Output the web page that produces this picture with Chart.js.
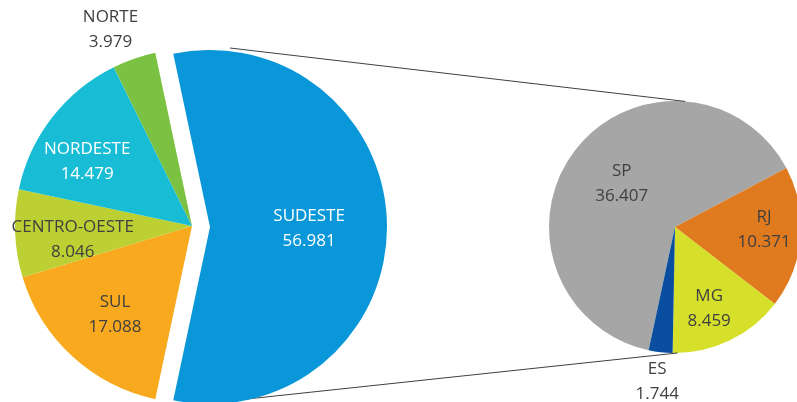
<!DOCTYPE html>
<html>
<head>
<meta charset="utf-8">
<script src="https://cdn.jsdelivr.net/npm/chart.js@4/dist/chart.umd.min.js"></script>
<style>
  body { margin: 0; background: #fff; }
  #wrap { position: relative; width: 797px; height: 402px; overflow: hidden; }
  #wrap canvas { position: absolute; left: 0; top: 0; }
</style>
</head>
<body>
<div id="wrap">
  <canvas id="detailPie" width="797" height="402"></canvas>
  <canvas id="mainPie" width="797" height="402"></canvas>
  <canvas id="sudestePie" width="797" height="402"></canvas>
</div>
<script>
// regiões (pizza da esquerda)
var regioes = ['SUDESTE', 'SUL', 'CENTRO-OESTE', 'NORDESTE', 'NORTE']
var valoresRegioes = [56.981, 17.088, 8.046, 14.479, 3.979]
var coresRegioes = ['#0a97d9', '#f8a91d', '#bccf33', '#18bdd5', '#7cc242']

// estados do sudeste (pizza da direita)
var estados = ['SP', 'RJ', 'MG', 'ES']
var valoresEstados = [36.407, 10.371, 8.459, 1.744]
var coresEstados = ['#a6a6a6', '#e07a1e', '#d6e02b', '#0a4ea0']

var FONT = '"Open Sans", "Liberation Sans", sans-serif'

// formato pt-BR com 3 casas (ponto de milhar)
function fmt(v) {
  return v.toFixed(3)
}

// label placement: [fraction of radius, dx, dy, text color]
var posRegioes = [
  [0.56, 0, 2, '#ffffff'],
  [0.66, 2, 3, '#404040'],
  [0.68, 1, 9, '#404040'],
  [0.70, -7, 12, '#ffffff'],
  [1.20, -12, 4, '#404040']
]
var posEstados = [
  [0.53, 0, -3, '#404040'],
  [0.71, 0, -5, '#404040'],
  [0.70, -4, 2, '#404040'],
  [1.23, 0, 1, '#404040']
]

function labelPlugin(labels, values, pos, onlyIndex) {
  return {
    id: 'sliceLabels',
    afterDatasetsDraw: function (chart) {
      var ctx = chart.ctx
      var arcs = chart.getDatasetMeta(0).data
      ctx.save()
      ctx.font = '17px ' + FONT
      ctx.textAlign = 'center'
      ctx.textBaseline = 'middle'
      arcs.forEach(function (arc, i) {
        if (onlyIndex !== undefined && onlyIndex.indexOf(i) < 0) return
        var p = pos[i]
        var mid = (arc.startAngle + arc.endAngle) / 2
        var r = arc.outerRadius * p[0]
        var x = arc.x + Math.cos(mid) * r + p[1]
        var y = arc.y + Math.sin(mid) * r + p[2]
        ctx.fillStyle = p[3]
        ctx.fillText(labels[i], x, y - 12.5)
        ctx.fillText(fmt(values[i]), x, y + 12.5)
      })
      ctx.restore()
    }
  }
}

// linhas ligando o SUDESTE à pizza de detalhe
var connectorPlugin = {
  id: 'connectors',
  afterDatasetsDraw: function (chart) {
    var arc = chart.getDatasetMeta(0).data[0]
    var cx = arc.x, cy = arc.y, r = arc.outerRadius
    var ctx = chart.ctx
    ctx.save()
    ctx.strokeStyle = '#404040'
    ctx.lineWidth = 1
    ctx.beginPath()
    ctx.moveTo(230, 48)
    ctx.lineTo(cx + r * Math.cos(-1.49), cy + r * Math.sin(-1.49))
    ctx.moveTo(247, 399)
    ctx.lineTo(cx + r * Math.cos(1.55), cy + r * Math.sin(1.55))
    ctx.stroke()
    ctx.restore()
  }
}

function baseOptions(radius, padding, rotation) {
  return {
    responsive: false,
    animation: false,
    radius: radius,
    rotation: rotation,
    layout: { padding: padding },
    plugins: { legend: { display: false }, tooltip: { enabled: false } }
  }
}

var totalRegioes = valoresRegioes.reduce(function (a, b) { return a + b }, 0)
var meioSudeste = 180 * valoresRegioes[0] / totalRegioes
var rotRegioes = 90 - meioSudeste

window.onload = function () {
  new Chart(document.getElementById('detailPie').getContext('2d'), {
    type: 'pie',
    data: {
      labels: estados,
      datasets: [{ data: valoresEstados, backgroundColor: coresEstados, borderWidth: 0 }]
    },
    options: baseOptions(126, { left: 553, right: 0, top: 52, bottom: 0 }, 192.1),
    plugins: [connectorPlugin, labelPlugin(estados, valoresEstados, posEstados)]
  })

  // demais regiões, centro em (192, 226)
  var coresSemSudeste = coresRegioes.map(function (c, i) { return i === 0 ? 'rgba(0,0,0,0)' : c })
  new Chart(document.getElementById('mainPie').getContext('2d'), {
    type: 'pie',
    data: {
      labels: regioes,
      datasets: [{ data: valoresRegioes, backgroundColor: coresSemSudeste, borderWidth: 0 }]
    },
    options: baseOptions(177, { left: 0, right: 413, top: 50, bottom: 0 }, rotRegioes),
    plugins: [labelPlugin(regioes, valoresRegioes, posRegioes, [1, 2, 3, 4])]
  })

  // fatia do SUDESTE destacada para a direita
  var soSudeste = coresRegioes.map(function (c, i) { return i === 0 ? c : 'rgba(0,0,0,0)' })
  new Chart(document.getElementById('sudestePie').getContext('2d'), {
    type: 'pie',
    data: {
      labels: regioes,
      datasets: [{ data: valoresRegioes, backgroundColor: soSudeste, borderWidth: 0 }]
    },
    options: baseOptions(177, { left: 0, right: 377, top: 52, bottom: 0 }, rotRegioes),
    plugins: [labelPlugin(regioes, valoresRegioes, posRegioes, [0])]
  })
}
</script>
</body>
</html>
